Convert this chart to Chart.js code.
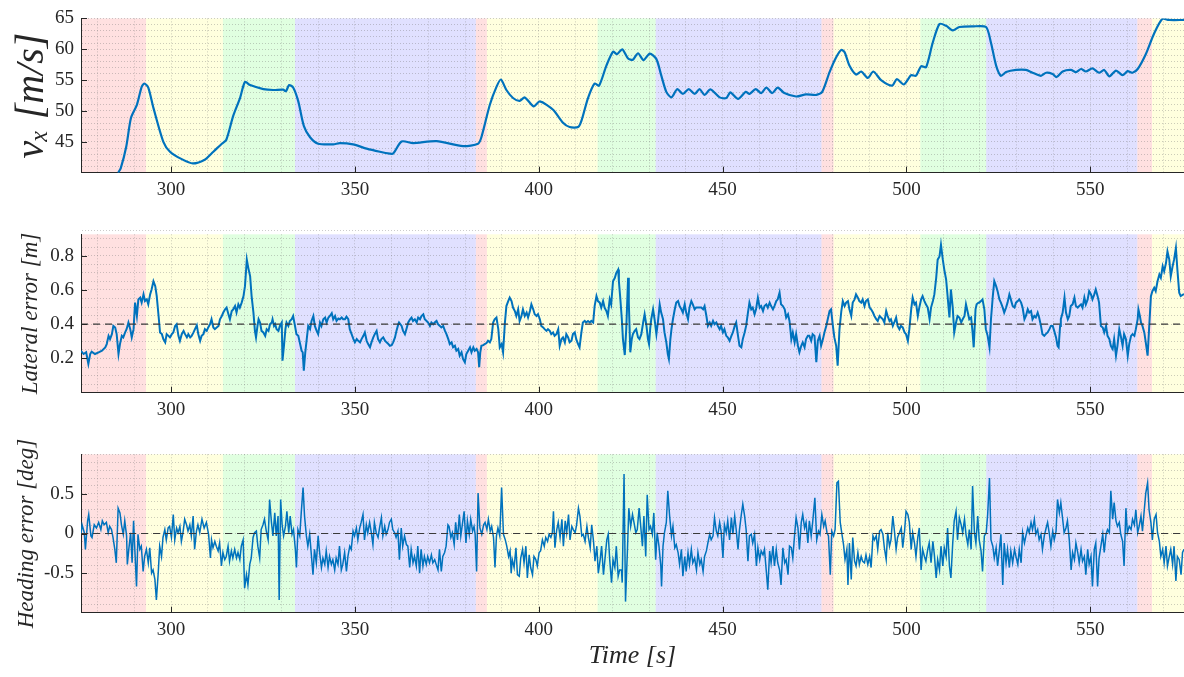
<!DOCTYPE html>
<html>
<head>
<meta charset="utf-8">
<script src="https://cdn.jsdelivr.net/npm/chart.js@4.4.1/dist/chart.umd.min.js"></script>
<style>
  html, body { margin: 0; padding: 0; background: #fff; }
  #wrap { position: relative; width: 1184px; height: 677px; }
  canvas { position: absolute; left: 0; }
</style>
</head>
<body>
<div id="wrap">
  <canvas id="vx-chart" width="1184" height="200" style="top:0;width:1184px;height:200px"></canvas>
  <canvas id="lat-chart" width="1184" height="225" style="top:200px;width:1184px;height:225px"></canvas>
  <canvas id="head-chart" width="1184" height="252" style="top:425px;width:1184px;height:252px"></canvas>
</div>
<script>
// phase bands (time edges) and their colour class
const bandEdges = [275.5, 293.2, 314.1, 333.7, 382.9, 385.9, 416.0, 431.8, 476.9, 480.2, 503.8, 521.7, 562.8, 566.8, 575.5];
const bandPhase = ["red", "yellow", "green", "blue", "red", "yellow", "green", "blue", "red", "yellow", "green", "blue", "red", "yellow"];

// tick labels
const xMajor = [300, 350, 400, 450, 500, 550];
const vxMajor = [45, 50, 55, 60, 65];
const latMajor = [0.2, 0.4, 0.6, 0.8];
const headMajor = [-0.5, 0, 0.5];

// reference lines
const latRef = 0.4;
const headRef = 0;

// longitudinal speed v_x [m/s]
const vxTime = [285.6, 286.3, 287.8, 289.1, 290.7, 292.0, 292.7, 293.8, 295.2, 297.9, 299.7, 302.9, 305.9, 309.0, 311.5, 313.8,
  315.0, 316.9, 318.75, 320.1, 321.5, 325.1, 327.8, 330.5, 331.25, 332.1, 333.2, 334.6, 336.1, 337.8, 340.0, 344.1, 345.9,
  349.5, 353.2, 356.8, 359.5, 360.4, 362.7, 365.8, 372.2, 379.4, 383.5, 384.4, 386.7, 388.5, 389.7, 391.2, 393.0, 394.8,
  396.2, 398.6, 400.3, 403.9, 406.6, 408.4, 410.7, 411.6, 413.4, 415.2, 416.4, 418.4, 420.2, 421.3, 422.7, 424.3, 425.6,
  427.0, 428.5, 430.2, 432.0, 433.3, 434.7, 436.1, 437.7, 439.2, 440.8, 442.4, 443.75, 445.1, 446.7, 449.2, 451.0, 452.1,
  454.2, 456.3, 457.3, 459.0, 460.5, 461.9, 463.5, 465.0, 466.8, 470.0, 472.7, 475.5, 477.1, 479.1, 480.9, 482.3, 483.2,
  484.5, 486.3, 487.7, 489.5, 491.0, 493.1, 496.1, 497.4, 499.3, 501.3, 502.6, 504.0, 505.35, 507.15, 509.0, 510.8, 512.6,
  514.4, 518.0, 521.65, 523.0, 524.4, 525.7, 527.1, 529.8, 532.5, 534.3, 536.6, 538.0, 539.75, 540.85, 542.5, 544.75,
  546.1, 547.5, 548.8, 550.6, 552.4, 553.8, 555.2, 557.0, 558.8, 560.15, 561.5, 562.9, 565.1, 567.4, 569.7, 571.5, 575.5];
const vx = [40.0, 40.7, 44.2, 48.9, 51.0, 53.9, 54.45, 53.8, 50.5, 45.0, 43.4, 42.2, 41.5, 42.05, 43.4, 44.7,
  45.3, 49.2, 52.1, 54.7, 54.2, 53.55, 53.4, 53.45, 53.2, 54.2, 53.8, 51.55, 47.6, 45.75, 44.7, 44.6, 44.8,
  44.6, 43.9, 43.4, 43.1, 43.1, 45.05, 44.8, 45.1, 44.3, 44.7, 45.75, 51.0, 53.9, 55.1, 53.4, 52.1, 51.65,
  52.2, 50.75, 51.55, 50.2, 48.1, 47.4, 47.4, 48.4, 52.1, 54.45, 54.1, 57.35, 59.6, 59.2, 60.0, 58.5, 58.3,
  59.35, 58.25, 59.3, 58.4, 55.8, 53.1, 52.2, 53.55, 52.75, 53.55, 52.75, 53.55, 52.6, 53.5, 52.2, 52.1, 53.0,
  51.95, 53.1, 52.75, 53.55, 52.9, 53.8, 52.9, 53.8, 52.9, 52.35, 52.7, 52.6, 53.1, 56.3, 58.7, 59.9, 59.5,
  57.35, 55.9, 56.4, 55.35, 56.4, 55.0, 54.1, 55.15, 54.3, 55.8, 55.7, 57.25, 57.1, 61.05, 64.1, 63.8, 63.05,
  63.6, 63.7, 63.6, 61.05, 57.35, 55.7, 56.3, 56.65, 56.65, 56.2, 55.7, 56.2, 56.0, 55.5, 56.4, 56.65,
  56.3, 56.8, 56.4, 56.9, 56.2, 56.65, 55.6, 56.55, 55.8, 56.45, 56.2, 56.8, 59.2, 62.6, 65.0, 64.75, 64.75];

// lateral error [m]
const latTime = [
  275.5, 276.2, 276.9, 277.5, 278.0, 278.4, 279.3, 280.3, 281.2, 282.1, 282.5, 283.0, 283.4, 283.9, 284.3, 284.8, 285.2, 285.7, 286.1, 286.6,
  287.0, 287.5, 287.9, 288.4, 288.9, 289.3, 289.8, 290.2, 290.7, 291.1, 291.6, 292.0, 292.5, 292.9, 293.4, 293.8, 294.3, 294.7, 295.2, 295.7,
  296.1, 296.6, 297.0, 297.5, 297.9, 298.4, 298.8, 299.3, 299.7, 300.2, 300.6, 301.1, 301.5, 302.0, 302.4, 302.9, 303.4, 303.8, 304.3, 304.7,
  305.2, 305.6, 306.1, 306.5, 307.0, 307.4, 307.9, 308.3, 308.8, 309.2, 309.7, 310.1, 310.6, 311.0, 311.5, 311.9, 312.4, 312.9, 313.3, 313.8,
  314.2, 314.7, 315.1, 315.6, 316.0, 316.5, 316.9, 317.4, 317.8, 318.3, 318.7, 319.2, 319.7, 320.1, 320.6, 321.0, 321.5, 321.9, 322.4, 322.8,
  323.1, 323.5, 323.8, 324.2, 324.6, 325.1, 325.6, 326.0, 326.5, 326.9, 327.4, 327.6, 328.0, 328.3, 328.7, 329.2, 329.6, 330.1, 330.3, 330.7,
  331.1, 331.4, 331.9, 332.3, 332.8, 333.2, 333.7, 334.1, 334.6, 335.1, 335.5, 335.8, 336.1, 336.5, 336.9, 337.3, 337.8, 338.2, 338.7, 339.1,
  339.6, 340.0, 340.5, 340.9, 341.4, 341.9, 342.3, 342.8, 343.2, 343.7, 344.1, 344.6, 345.0, 345.5, 345.9, 346.4, 346.8, 347.3, 347.7, 348.2,
  348.6, 349.1, 349.6, 350.0, 350.5, 350.9, 351.4, 351.8, 352.3, 352.7, 353.2, 353.6, 354.1, 354.5, 355.0, 355.4, 355.9, 356.3, 356.8, 357.2,
  357.7, 358.2, 358.6, 359.1, 359.5, 360.0, 360.4, 360.9, 361.3, 361.8, 362.0,
  362.7, 363.1, 363.6, 364.0, 364.5, 365.0, 365.4, 365.8, 366.3, 366.8, 367.2, 367.7, 368.1, 368.6, 369.0, 369.5, 369.9, 370.4, 370.8, 371.3,
  371.7, 372.2, 372.6, 373.1, 373.5, 374.0, 374.5, 374.9, 375.4, 375.8, 376.3, 376.7, 377.2, 377.6, 378.1, 378.5, 379.0, 379.4, 379.9, 380.3,
  380.8, 381.3, 381.7, 382.2, 382.6, 383.1, 383.5, 383.8, 384.1, 384.4, 384.9, 385.3, 385.8, 386.2, 386.7, 387.1, 387.6, 388.0, 388.5, 389.0,
  389.4, 389.9, 390.3, 390.8, 391.2, 391.7, 392.1, 392.6, 393.0, 393.5, 393.9, 394.4, 394.8, 395.3, 395.7, 396.2, 396.7, 397.1, 397.6, 398.0,
  398.5, 398.9, 399.4, 399.8, 400.3, 400.7, 401.2, 401.6, 402.1, 402.5, 403.0, 403.4, 403.9, 404.3, 404.8, 405.3, 405.7, 406.2, 406.6, 407.1,
  407.5, 408.0, 408.4, 408.9, 409.3, 409.8, 410.2, 410.7, 411.1, 411.6, 412.0, 412.5, 412.9, 413.4, 413.9, 414.3, 414.8, 415.2, 415.7, 416.1,
  416.6, 417.0, 417.5, 417.9, 418.4, 418.8, 419.3, 419.7, 420.2, 420.7, 421.1, 421.6, 421.8, 422.2, 422.6, 422.9, 423.4, 423.8, 424.3, 424.5,
  424.9, 425.3, 425.6, 426.1, 426.5, 427.0, 427.4, 427.9, 428.4, 428.8, 429.3, 429.7, 430.0, 430.3, 430.6, 431.1, 431.5, 432.0, 432.4, 432.9,
  433.3, 433.8, 434.2, 434.7, 435.1, 435.4, 435.8, 436.1, 436.5, 437.0, 437.4, 437.9, 438.3, 438.8, 439.2, 439.7, 440.1, 440.6, 441.0, 441.5,
  441.9, 442.4, 442.8, 443.3, 443.7, 444.2, 444.7, 445.1, 445.6, 446.0, 446.5, 446.9, 447.4, 447.8, 448.3, 448.7, 449.2, 449.6, 450.1, 450.5,
  451.0, 451.4, 451.9, 452.4, 452.8, 453.3, 453.7, 454.2, 454.6, 455.1, 455.5, 456.0, 456.4, 456.9, 457.3, 457.8, 458.2, 458.7, 459.1, 459.6,
  460.1, 460.5, 461.0, 461.4, 461.9, 462.3, 462.8, 463.2, 463.7, 464.1, 464.6, 465.0, 465.5,
  465.9, 466.4, 466.9, 467.3, 467.8, 468.2, 468.7, 469.1, 469.6, 470.0, 470.5, 470.9, 471.4, 471.8, 472.3, 472.7, 473.2, 473.6, 474.1, 474.5,
  475.0, 475.5, 475.9, 476.4, 476.8, 477.3, 477.7, 478.2, 478.6, 479.1, 479.5, 480.0, 480.4, 480.9, 481.3, 481.8, 482.3, 482.7, 483.2, 483.6,
  484.1, 484.5, 485.0, 485.4, 485.9, 486.3, 486.8, 487.2, 487.7, 488.1, 488.6, 489.0, 489.5, 490.0, 490.4, 490.9, 491.3, 491.8, 492.2, 492.7,
  493.1, 493.6, 494.0, 494.5, 494.9, 495.4, 495.8, 496.3, 496.7, 497.2, 497.6, 498.1, 498.5, 499.0, 499.5, 499.9, 500.4, 500.8, 501.3, 501.7,
  502.2, 502.6, 503.1, 503.5, 504.0, 504.4, 504.9, 505.3, 505.8, 506.3, 506.7, 507.2, 507.6, 508.1, 508.5, 509.0, 509.4, 509.9, 510.3, 510.8,
  511.2, 511.7, 512.1, 512.6, 513.0, 513.5, 513.9, 514.4, 514.9, 515.3, 515.8, 516.2, 516.7, 517.1, 517.6, 518.0, 518.3, 518.8, 519.1, 519.6,
  519.8, 520.3, 520.7, 521.2, 521.6, 522.1, 522.6, 523.0, 523.5, 523.9, 524.4, 524.8, 525.3, 525.7, 526.2, 526.6, 527.1, 527.5, 528.0, 528.4,
  528.9, 529.4, 529.8, 530.3, 530.7, 531.2, 531.6, 532.1, 532.5, 533.0, 533.4, 533.9, 534.3, 534.8, 535.2, 535.7, 536.1, 536.6, 537.0, 537.5,
  537.9, 538.4, 538.9, 539.3, 539.8, 540.2, 540.7, 541.1, 541.4, 541.8, 542.0, 542.5, 543.0, 543.4, 543.9, 544.3, 544.7, 545.2, 545.7, 546.1,
  546.6, 547.0, 547.5, 547.9, 548.4, 548.8, 549.3, 549.7, 550.2, 550.6, 551.1, 551.5, 552.0, 552.4, 552.9, 553.4, 553.8, 554.3, 554.7, 555.2,
  555.6, 556.1, 556.5, 557.0, 557.4, 557.9, 558.3, 558.8, 559.2, 559.7, 560.2, 560.6, 561.1, 561.5, 562.0, 562.4, 562.9, 563.1, 563.5, 563.8,
  564.2, 564.7, 565.1, 565.6, 566.0, 566.5, 566.9, 567.4, 567.8, 568.3, 568.8, 569.2, 569.7, 570.1, 570.6, 571.0, 571.5, 571.9, 572.4, 572.8,
  573.3, 573.7, 574.2, 574.6, 575.3, 575.5];
const lateral = [
  0.245, 0.226, 0.236, 0.168, 0.226, 0.240, 0.226, 0.236, 0.245, 0.265, 0.284, 0.332, 0.313, 0.342, 0.390, 0.381, 0.342, 0.226, 0.284, 0.332,
  0.323, 0.352, 0.371, 0.410, 0.371, 0.323, 0.371, 0.526, 0.448, 0.545, 0.555, 0.526, 0.574, 0.535, 0.545, 0.516, 0.574, 0.603, 0.651, 0.622,
  0.564, 0.448, 0.352, 0.342, 0.313, 0.294, 0.342, 0.332, 0.323, 0.342, 0.352, 0.390, 0.400, 0.332, 0.303, 0.342, 0.361, 0.342, 0.323, 0.342,
  0.323, 0.332, 0.352, 0.371, 0.394, 0.342, 0.303, 0.332, 0.342, 0.371, 0.361, 0.381, 0.400, 0.429, 0.381, 0.371, 0.381, 0.390, 0.429, 0.448,
  0.468, 0.487, 0.497, 0.458, 0.429, 0.477, 0.487, 0.506, 0.468, 0.516, 0.497, 0.526, 0.564, 0.622, 0.777, 0.729, 0.680, 0.564, 0.468, 0.361,
  0.323, 0.390, 0.429, 0.410, 0.361, 0.352, 0.332, 0.371, 0.361, 0.400, 0.410, 0.429, 0.390, 0.400, 0.371, 0.361, 0.390, 0.410, 0.187, 0.274,
  0.371, 0.410, 0.390, 0.419, 0.429, 0.448, 0.390, 0.342, 0.332, 0.284, 0.245, 0.236, 0.129, 0.236, 0.313, 0.390, 0.371, 0.419, 0.448, 0.390,
  0.361, 0.342, 0.410, 0.390, 0.429, 0.439, 0.410, 0.439, 0.448, 0.464, 0.429, 0.448, 0.419, 0.433, 0.429, 0.439, 0.429, 0.429, 0.444, 0.429,
  0.371, 0.342, 0.313, 0.294, 0.313, 0.303, 0.294, 0.313, 0.332, 0.352, 0.303, 0.284, 0.265, 0.294, 0.323, 0.342, 0.361, 0.313, 0.294, 0.313,
  0.323, 0.303, 0.294, 0.284, 0.274, 0.278, 0.294, 0.323, 0.361, 0.400, 0.410,
  0.390, 0.361, 0.342, 0.371, 0.410, 0.429, 0.439, 0.419, 0.429, 0.410, 0.439, 0.429, 0.448, 0.458, 0.429, 0.419, 0.410, 0.390, 0.410, 0.400,
  0.410, 0.419, 0.400, 0.390, 0.381, 0.390, 0.361, 0.342, 0.313, 0.284, 0.294, 0.265, 0.274, 0.245, 0.255, 0.216, 0.236, 0.197, 0.178, 0.226,
  0.245, 0.265, 0.236, 0.265, 0.245, 0.255, 0.236, 0.149, 0.236, 0.274, 0.278, 0.284, 0.290, 0.303, 0.294, 0.313, 0.410, 0.429, 0.439, 0.371,
  0.265, 0.284, 0.236, 0.410, 0.506, 0.535, 0.555, 0.535, 0.497, 0.477, 0.448, 0.487, 0.419, 0.448, 0.487, 0.448, 0.468, 0.439, 0.477, 0.516,
  0.487, 0.458, 0.448, 0.458, 0.429, 0.390, 0.381, 0.371, 0.361, 0.371, 0.361, 0.342, 0.352, 0.332, 0.342, 0.371, 0.274, 0.313, 0.323, 0.294,
  0.342, 0.323, 0.294, 0.303, 0.342, 0.352, 0.313, 0.284, 0.265, 0.352, 0.410, 0.419, 0.410, 0.419, 0.410, 0.419, 0.410, 0.506, 0.564, 0.535,
  0.526, 0.497, 0.535, 0.497, 0.477, 0.448, 0.545, 0.516, 0.651, 0.671, 0.700, 0.719, 0.651, 0.545, 0.429, 0.313, 0.220, 0.371, 0.671, 0.526,
  0.236, 0.313, 0.342, 0.361, 0.371, 0.323, 0.313, 0.342, 0.410, 0.458, 0.390, 0.313, 0.284, 0.371, 0.429, 0.487, 0.429, 0.342, 0.410, 0.516,
  0.468, 0.429, 0.352, 0.294, 0.226, 0.197, 0.313, 0.371, 0.429, 0.487, 0.526, 0.535, 0.506, 0.487, 0.468, 0.516, 0.468, 0.429, 0.497, 0.535,
  0.516, 0.487, 0.497, 0.497, 0.497, 0.497, 0.487, 0.506, 0.448, 0.390, 0.410, 0.390, 0.419, 0.400, 0.410, 0.390, 0.371, 0.390, 0.352, 0.371,
  0.332, 0.323, 0.303, 0.332, 0.352, 0.390, 0.410, 0.332, 0.274, 0.265, 0.313, 0.352, 0.390, 0.468, 0.526, 0.487, 0.497, 0.458, 0.487, 0.555,
  0.497, 0.506, 0.477, 0.506, 0.516, 0.497, 0.526, 0.506, 0.487, 0.506, 0.535, 0.545, 0.584,
  0.516, 0.506, 0.487, 0.439, 0.458, 0.419, 0.313, 0.352, 0.294, 0.342, 0.274, 0.236, 0.274, 0.294, 0.265, 0.313, 0.332, 0.332, 0.303, 0.342,
  0.332, 0.178, 0.303, 0.332, 0.274, 0.313, 0.352, 0.390, 0.429, 0.477, 0.487, 0.390, 0.323, 0.274, 0.158, 0.371, 0.477, 0.535, 0.506, 0.526,
  0.535, 0.487, 0.448, 0.526, 0.545, 0.574, 0.555, 0.535, 0.526, 0.545, 0.506, 0.535, 0.545, 0.497, 0.487, 0.468, 0.448, 0.429, 0.419, 0.448,
  0.439, 0.429, 0.410, 0.477, 0.448, 0.419, 0.429, 0.390, 0.410, 0.439, 0.390, 0.371, 0.390, 0.381, 0.352, 0.342, 0.303, 0.371, 0.487, 0.555,
  0.516, 0.526, 0.448, 0.497, 0.545, 0.564, 0.535, 0.516, 0.497, 0.429, 0.497, 0.535, 0.574, 0.671, 0.777, 0.796, 0.864, 0.777, 0.719, 0.661,
  0.564, 0.439, 0.603, 0.497, 0.352, 0.410, 0.448, 0.439, 0.410, 0.429, 0.448, 0.516, 0.468, 0.429, 0.439, 0.352, 0.265, 0.487, 0.516, 0.526,
  0.526, 0.535, 0.545, 0.487, 0.371, 0.332, 0.265, 0.429, 0.564, 0.651, 0.622, 0.593, 0.545, 0.526, 0.497, 0.468, 0.497, 0.526, 0.574, 0.545,
  0.506, 0.497, 0.526, 0.535, 0.545, 0.526, 0.497, 0.429, 0.448, 0.487, 0.468, 0.477, 0.429, 0.448, 0.439, 0.468, 0.439, 0.390, 0.342, 0.332,
  0.342, 0.352, 0.371, 0.390, 0.390, 0.361, 0.323, 0.274, 0.265, 0.390, 0.429, 0.468, 0.555, 0.468, 0.429, 0.448, 0.506, 0.516, 0.555, 0.506,
  0.497, 0.506, 0.516, 0.497, 0.555, 0.516, 0.545, 0.593, 0.574, 0.545, 0.574, 0.603, 0.564, 0.526, 0.390, 0.381, 0.352, 0.390, 0.332, 0.313,
  0.274, 0.255, 0.313, 0.216, 0.274, 0.371, 0.332, 0.274, 0.342, 0.313, 0.216, 0.284, 0.332, 0.342, 0.332, 0.371, 0.429, 0.487, 0.448, 0.410,
  0.390, 0.352, 0.294, 0.216, 0.371, 0.564, 0.593, 0.613, 0.593, 0.651, 0.690, 0.671, 0.738, 0.709, 0.757, 0.825, 0.777, 0.680, 0.738, 0.777,
  0.845, 0.719, 0.584, 0.564, 0.574, 0.570];

// heading error [deg]
const headTime = [
  275.5, 275.8, 276.4, 276.7, 277.3, 277.6, 278.2, 278.5, 279.1, 279.7, 280.3, 280.9, 281.3, 281.8, 282.4, 282.9, 283.3, 283.8, 284.2, 284.7,
  285.1, 285.6, 286.1, 286.5, 287.0, 287.4, 287.9, 288.1, 288.5, 289.0, 289.4, 289.8, 290.1, 290.6, 291.0, 291.5, 291.9, 292.4, 292.8, 293.3,
  293.8, 294.2, 294.7, 295.1, 295.6, 296.0, 296.5, 296.9, 297.4, 297.8, 298.3, 298.7, 299.2, 299.6, 300.1, 300.6, 301.0, 301.5, 301.9, 302.4,
  302.8, 303.3, 303.7, 304.2, 304.6, 305.1, 305.5, 306.0, 306.4, 306.9, 307.3, 307.8, 308.4, 309.0, 309.6, 310.2, 310.7, 311.0, 311.4, 311.9,
  312.3, 312.8, 313.2, 313.7, 314.1, 314.6, 315.0, 315.5, 315.9, 316.4, 316.8, 317.3, 317.8, 318.2, 318.7, 319.1, 319.6, 320.0, 320.5, 320.9,
  321.4, 321.8, 322.3, 322.7, 323.2, 323.6, 324.1, 324.5, 325.0, 325.4, 325.9, 326.4, 326.8, 327.3, 327.7, 328.2, 328.6, 329.1, 329.4, 329.8,
  330.2, 330.6, 331.1, 331.5, 332.0, 332.4, 332.9, 333.3, 333.8, 334.1, 334.5, 335.0, 335.4, 335.9, 336.3, 336.8, 337.2, 337.7, 338.1, 338.6,
  339.0, 339.5, 340.0, 340.4, 340.9, 341.3, 341.8, 342.2, 342.7, 343.1, 343.6, 344.0, 344.5, 344.9, 345.4, 345.8, 346.3, 346.7, 347.2, 347.7,
  348.1, 348.6, 349.0, 349.5, 349.9, 350.4, 350.8, 351.3, 351.7, 352.2, 352.6, 353.1, 353.5, 354.0, 354.4, 354.9, 355.3, 355.8, 356.3, 356.7,
  357.2, 357.6, 358.1, 358.5, 359.0, 359.4, 359.9, 360.3, 360.8, 361.2, 361.7, 362.1, 362.6, 363.0, 363.5, 364.0, 364.4, 364.9, 365.3, 365.8,
  366.2, 366.7, 367.1, 367.6, 368.0, 368.5, 368.9, 369.4, 369.8, 370.3, 370.8, 371.2, 371.7, 372.1, 372.6, 373.0, 373.5, 373.9, 374.4, 374.8,
  375.3,
  375.6, 376.1, 376.5, 377.0, 377.4, 377.9, 378.4, 378.8, 379.3, 379.7, 380.2, 380.6, 381.1, 381.5, 382.0, 382.4, 382.7, 383.1, 383.5, 384.0,
  384.5, 385.0, 385.4, 385.9, 386.3, 386.8, 387.2, 387.7, 388.1, 388.5, 388.9, 389.4, 389.9, 390.4, 390.9, 391.3, 391.8, 392.2, 392.5, 392.8,
  393.3, 393.8, 394.2, 394.7, 395.1, 395.6, 396.0, 396.5, 396.9, 397.4, 397.8, 398.3, 398.7, 399.2, 399.6, 400.1, 400.5, 401.0, 401.5, 401.9,
  402.4, 402.8, 403.3, 403.7, 404.0, 404.4, 404.9, 405.3, 405.8, 406.3, 406.7, 407.2, 407.6, 408.1, 408.5, 409.0, 409.4, 409.9, 410.3, 410.8,
  411.2, 411.7, 412.1, 412.6, 413.1, 413.5, 414.0, 414.4, 414.9, 415.3, 415.8, 416.2, 416.7, 417.1, 417.6, 418.0, 418.5, 418.9, 419.3, 419.8,
  420.2, 420.7, 421.1, 421.6, 422.0, 422.5, 422.7, 423.2, 423.6, 424.1, 424.5, 425.0, 425.5, 425.9, 426.4, 426.8, 427.3, 427.7, 428.2, 428.6,
  429.1, 429.5, 430.0, 430.4, 430.9, 431.3, 431.8, 432.2, 432.7, 433.2, 433.4, 433.8, 434.2, 434.7, 435.1, 435.6, 436.1, 436.5, 437.0, 437.4,
  437.9, 438.3, 438.8, 439.2, 439.7, 440.1, 440.6, 441.0, 441.5, 441.9, 442.4, 442.9, 443.3, 443.8, 444.2, 444.7, 445.1, 445.6, 446.0, 446.5,
  446.9, 447.4, 447.8, 448.3, 448.7, 449.2, 449.6, 450.1, 450.5, 451.0, 451.4, 451.9, 452.4, 452.8, 453.3, 453.7, 454.2, 454.6, 455.1, 455.5,
  456.0, 456.4, 456.9, 457.3, 457.8, 458.2, 458.7, 459.2, 459.6, 460.1, 460.5, 461.0, 461.4, 461.9, 462.3, 462.8, 463.2, 463.7, 464.1, 464.6,
  465.0, 465.5, 465.9, 466.4, 466.9, 467.3, 467.8, 468.2, 468.7, 469.1, 469.6, 470.0, 470.5, 470.9, 471.4, 471.8, 472.3, 472.7, 473.2, 473.6,
  474.1, 474.5, 475.1,
  475.6, 476.1, 476.5, 477.0, 477.5, 477.9, 478.4, 478.8, 479.3, 479.7, 480.2, 480.6, 481.1, 481.5, 482.0, 482.4, 482.9, 483.3, 483.8, 484.1,
  484.5, 485.0, 485.4, 485.9, 486.3, 486.8, 487.2, 487.7, 488.1, 488.6, 489.0, 489.5, 490.0, 490.4, 490.9, 491.3, 491.8, 492.2, 492.7, 493.1,
  493.6, 494.0, 494.5, 494.9, 495.4, 495.8, 496.3, 496.7, 497.2, 497.6, 498.1, 498.6, 499.0, 499.5, 499.9, 500.4, 500.8, 501.3, 501.7, 502.2,
  502.6, 503.1, 503.5, 504.0, 504.4, 504.9, 505.3, 505.8, 506.2, 506.7, 507.2, 507.6, 508.1, 508.5, 509.0, 509.4, 509.9, 510.3, 510.8, 511.2,
  511.7, 512.1, 512.6, 513.0, 513.5, 513.9, 514.4, 514.9, 515.3, 515.8, 516.2, 516.7, 517.1, 517.6, 518.0, 518.5, 518.9, 519.4, 519.8, 520.3,
  520.7, 521.2, 521.7, 522.1, 522.6, 523.0, 523.5, 523.9, 524.4, 524.8, 525.3, 525.7, 526.2, 526.6, 527.1, 527.5, 528.0, 528.4, 528.9, 529.4,
  529.8, 530.3, 530.7, 531.2, 531.6, 532.1, 532.5, 533.0, 533.4, 533.9, 534.3, 534.8, 535.2, 535.7, 536.1, 536.6, 537.0, 537.5, 538.0, 538.4,
  538.9, 539.3, 539.8, 540.2, 540.7, 541.1, 541.6, 542.0, 542.5, 542.9, 543.4, 543.8, 544.3, 544.8, 545.2, 545.7, 546.1, 546.6, 547.0, 547.5,
  547.9, 548.4, 548.8, 549.3, 549.7, 550.2, 550.6, 551.1, 551.5, 552.0, 552.4, 552.9, 553.4, 553.8, 554.3, 554.7, 555.2, 555.6, 556.1, 556.5,
  557.0, 557.4, 557.9, 558.3, 558.8, 559.2, 559.7, 560.1, 560.6, 561.1, 561.5, 562.0, 562.4, 562.9, 563.3, 563.8, 564.2, 564.7, 565.1, 565.6,
  566.0, 566.5, 566.9, 567.4, 567.9, 568.3, 568.8, 569.2, 569.7, 570.1, 570.6, 571.0, 571.5, 571.9, 572.4, 572.8, 573.3, 573.7, 574.2, 574.7,
  575.1, 575.5];
const heading = [
  -0.01, 0.11, 0.01, -0.20, 0.16, 0.24, -0.03, -0.05, 0.11, 0.07, 0.14, 0.05, 0.16, 0.11, 0.14, 0.01, 0.09, 0.05, -0.05, -0.20,
  -0.37, 0.32, 0.26, 0.11, -0.01, 0.16, -0.03, -0.39, -0.20, 0.01, -0.37, 0.16, -0.16, -0.67, -0.01, -0.20, -0.16, -0.48, -0.29, -0.20,
  -0.37, -0.18, -0.50, -0.46, -0.58, -0.84, -0.50, -0.16, -0.29, -0.05, 0.05, -0.08, 0.07, 0.09, -0.05, 0.24, -0.08, 0.07, 0.01, 0.09,
  -0.10, 0.03, 0.18, 0.11, 0.03, 0.11, -0.03, 0.22, -0.20, 0.03, 0.11, 0.01, 0.18, 0.07, 0.14, -0.01, -0.31, -0.08, -0.18, -0.10,
  -0.16, -0.22, -0.12, -0.41, -0.24, -0.33, -0.29, -0.16, -0.35, -0.22, -0.31, -0.20, -0.31, -0.24, -0.33, -0.16, -0.08, -0.69, -0.52, -0.65,
  -0.39, -0.31, -0.05, 0.01, 0.03, -0.16, -0.31, 0.05, 0.11, 0.18, 0.03, -0.08, 0.43, 0.14, -0.03, 0.26, -0.03, 0.22, -0.84, 0.43,
  0.11, -0.03, 0.09, 0.28, 0.01, 0.22, -0.01, 0.05, -0.20, -0.43, 0.05, -0.03, 0.26, 0.58, 0.22, -0.03, -0.16, -0.01, -0.24, -0.52,
  -0.20, -0.37, -0.03, -0.24, -0.43, -0.31, -0.39, -0.22, -0.43, -0.29, -0.39, -0.33, -0.46, -0.31, -0.39, -0.16, -0.46, -0.39, -0.24, -0.48,
  -0.29, -0.16, -0.20, 0.03, -0.03, 0.07, -0.08, 0.07, 0.14, 0.24, -0.08, 0.11, 0.01, 0.14, 0.03, -0.14, 0.14, 0.01, -0.05, 0.07,
  0.20, -0.03, 0.09, -0.01, 0.05, 0.14, 0.18, 0.05, 0.01, -0.05, 0.03, -0.33, 0.07, -0.16, -0.03, -0.14, -0.16, -0.43, -0.20, -0.37,
  -0.29, -0.41, -0.16, -0.50, -0.20, -0.41, -0.29, -0.39, -0.29, -0.37, -0.27, -0.37, -0.33, -0.39, -0.46, -0.20, -0.48, -0.29, -0.24, -0.16,
  0.11,
  0.09, -0.05, 0.01, -0.14, 0.14, -0.08, 0.24, -0.03, 0.14, 0.28, -0.12, 0.16, -0.01, 0.18, 0.03, 0.09, -0.01, -0.48, 0.51, 0.07,
  -0.01, 0.11, 0.14, 0.05, 0.18, 0.03, 0.09, -0.05, -0.43, -0.03, 0.07, -0.03, 0.58, -0.01, -0.08, -0.16, -0.29, -0.22, -0.50, -0.33,
  -0.43, -0.18, -0.52, -0.54, -0.31, -0.20, -0.37, -0.16, -0.56, -0.27, -0.43, -0.52, -0.29, -0.33, -0.41, -0.24, -0.22, -0.08, -0.16, -0.05,
  -0.10, -0.01, -0.05, 0.01, 0.28, -0.18, 0.05, 0.14, -0.05, 0.18, -0.16, 0.16, 0.01, 0.24, -0.08, 0.09, 0.05, 0.01, 0.11, 0.32,
  0.22, -0.03, -0.01, -0.10, 0.09, -0.05, -0.18, 0.11, -0.10, -0.35, -0.16, -0.50, -0.33, -0.16, -0.52, -0.33, -0.08, -0.01, -0.33, -0.62,
  -0.33, -0.43, -0.16, -0.54, -0.46, -0.46, -0.62, 0.75, -0.86, -0.24, 0.32, 0.09, 0.24, 0.14, 0.01, 0.05, 0.32, 0.11, -0.16, 0.22,
  -0.29, 0.49, 0.05, 0.09, -0.01, 0.26, -0.33, 0.01, -0.16, -0.41, -0.67, -0.16, 0.01, 0.14, 0.54, 0.22, -0.03, 0.09, -0.18, -0.14,
  -0.24, -0.39, -0.20, -0.54, -0.29, -0.48, -0.24, -0.39, -0.20, -0.37, -0.31, -0.46, -0.24, -0.39, -0.33, -0.48, -0.29, -0.22, -0.12, -0.01,
  -0.08, -0.03, 0.20, 0.03, -0.03, 0.14, 0.03, -0.31, 0.11, 0.01, 0.16, -0.08, 0.20, -0.01, 0.22, 0.05, -0.20, 0.05, 0.24, 0.37,
  0.22, 0.05, -0.35, -0.03, -0.01, -0.12, -0.01, -0.41, -0.18, -0.33, -0.22, -0.27, -0.20, -0.48, -0.71, -0.22, -0.37, -0.16, -0.41, -0.20,
  -0.37, -0.46, -0.65, -0.18, -0.37, -0.33, -0.52, -0.16, -0.18, -0.31, -0.01, 0.20, 0.07, -0.20, 0.14, 0.24, 0.07, 0.14, -0.12, 0.16,
  -0.03, 0.14, 0.45,
  -0.08, 0.03, -0.01, 0.24, 0.09, 0.16, 0.01, -0.03, -0.52, 0.03, -0.03, 0.05, 0.64, 0.66, 0.14, 0.01, -0.14, -0.33, -0.20, -0.65,
  -0.12, -0.58, -0.05, -0.35, -0.41, -0.24, -0.39, -0.29, -0.35, -0.37, -0.27, -0.39, -0.29, -0.43, -0.03, -0.08, -0.03, -0.20, 0.03, 0.05,
  -0.01, -0.18, -0.33, 0.01, -0.16, -0.08, 0.22, 0.05, -0.20, -0.05, 0.01, 0.07, -0.18, 0.03, 0.28, 0.24, 0.14, -0.20, 0.01, -0.12,
  -0.29, -0.05, 0.07, -0.46, -0.20, -0.29, -0.35, -0.20, -0.12, -0.37, -0.10, -0.27, -0.56, -0.33, -0.46, -0.16, -0.41, -0.18, -0.29, 0.07,
  -0.41, -0.56, -0.12, 0.16, 0.28, -0.08, 0.20, 0.11, 0.01, 0.18, -0.01, -0.14, 0.05, -0.20, 0.60, 0.01, -0.12, 0.22, -0.08, -0.22,
  -0.48, -0.03, 0.01, 0.24, 0.70, -0.08, -0.16, -0.31, -0.18, -0.41, -0.20, -0.01, -0.65, -0.12, -0.37, -0.20, -0.43, -0.22, -0.37, -0.20,
  -0.29, -0.39, -0.20, -0.37, 0.01, -0.12, -0.03, 0.07, 0.01, 0.14, 0.05, 0.18, -0.01, 0.05, -0.08, -0.01, -0.20, -0.03, 0.07, 0.14,
  -0.01, -0.16, 0.03, -0.08, 0.03, 0.43, 0.26, 0.39, 0.18, 0.01, 0.07, 0.16, -0.08, -0.46, -0.24, -0.33, -0.12, -0.24, -0.37, -0.20,
  -0.35, -0.29, -0.52, -0.20, -0.39, -0.29, -0.67, -0.20, -0.12, -0.67, -0.31, -0.16, -0.01, -0.24, -0.01, 0.05, 0.01, 0.54, 0.18, 0.39,
  0.16, 0.09, 0.14, -0.01, -0.10, -0.41, 0.32, 0.01, 0.09, 0.05, 0.18, 0.11, 0.30, 0.01, 0.09, 0.22, 0.03, 0.30, 0.51, 0.64,
  0.30, 0.14, -0.08, 0.18, 0.24, 0.01, -0.10, -0.29, -0.20, -0.37, -0.16, -0.41, -0.29, -0.20, -0.39, -0.16, -0.60, -0.29, -0.33, -0.52,
  -0.24, -0.20];

const X_MIN = 275.5, X_MAX = 575.5;
const LINE = "#0072BD";
const INK = "#262626";
const SERIF = "'Liberation Serif', 'DejaVu Serif', serif";
const phaseColors = {
  red: "rgba(255, 0, 0, 0.12)",
  yellow: "rgba(255, 255, 0, 0.13)",
  green: "rgba(0, 255, 0, 0.12)",
  blue: "rgba(0, 0, 255, 0.12)",
};

function steps(a, b, d) {
  const out = [];
  const n = Math.round((b - a) / d);
  for (let i = 0; i <= n; i++) out.push(Math.round((a + i * d) * 1000) / 1000);
  return out;
}
const hasVal = (arr, v) => arr.some((m) => Math.abs(m - v) < 1e-6);
const pts = (ts, vs) => ts.map((t, i) => ({ x: t, y: vs[i] }));

const phasePlugin = {
  id: "phases",
  beforeDraw(chart) {
    const { ctx, chartArea: a, scales: { x } } = chart;
    ctx.save();
    for (let i = 0; i < bandPhase.length; i++) {
      const x0 = x.getPixelForValue(bandEdges[i]);
      const x1 = x.getPixelForValue(bandEdges[i + 1]);
      ctx.fillStyle = phaseColors[bandPhase[i]];
      ctx.fillRect(x0, a.top, x1 - x0, a.bottom - a.top);
    }
    ctx.restore();
  },
};

// MATLAB-style ticks pointing into the axes
const innerTicks = {
  id: "innerTicks",
  afterDraw(chart, args, opts) {
    const { ctx, chartArea: a, scales: { x, y } } = chart;
    ctx.save();
    ctx.strokeStyle = INK;
    ctx.lineWidth = 1;
    ctx.beginPath();
    xMajor.forEach((v) => {
      const px = Math.round(x.getPixelForValue(v)) + 0.5;
      ctx.moveTo(px, a.bottom);
      ctx.lineTo(px, a.bottom - 6);
    });
    opts.yMajor.forEach((v) => {
      const py = Math.round(y.getPixelForValue(v)) + 0.5;
      ctx.moveTo(a.left, py);
      ctx.lineTo(a.left + 6, py);
    });
    ctx.stroke();
    ctx.restore();
  },
};

function makeConfig(o) {
  const datasets = [];
  if (o.ref !== undefined) {
    datasets.push({
      data: [{ x: X_MIN, y: o.ref }, { x: X_MAX, y: o.ref }],
      borderColor: "#3a3a3a",
      borderWidth: 1.2,
      borderDash: [7, 5],
      pointRadius: 0,
    });
  }
  datasets.push({
    data: o.data,
    borderColor: LINE,
    borderWidth: o.lineWidth,
    pointRadius: 0,
    tension: o.tension || 0,
  });
  const grid = { color: "rgba(110, 110, 110, 0.35)", drawTicks: false, lineWidth: 1 };
  const border = { display: true, color: INK, width: 1, dash: [1, 2] };
  return {
    type: "line",
    data: { datasets: datasets },
    plugins: [phasePlugin, innerTicks],
    options: {
      responsive: false,
      animation: false,
      devicePixelRatio: 1,
      events: [],
      layout: { padding: { top: o.padTop, right: 0, bottom: 0, left: 0 } },
      plugins: {
        legend: { display: false },
        tooltip: { enabled: false },
        innerTicks: { yMajor: o.yMajor },
      },
      scales: {
        x: {
          type: "linear",
          min: X_MIN,
          max: X_MAX,
          afterBuildTicks: (s) => { s.ticks = steps(280, 570, 10).map((v) => ({ value: v })); },
          afterFit: (s) => { s.height = o.xHeight; },
          grid: grid,
          border: border,
          ticks: {
            autoSkip: false,
            maxRotation: 0,
            padding: 6,
            color: INK,
            font: { family: SERIF, size: 19 },
            callback: (v) => (hasVal(xMajor, v) ? String(v) : ""),
          },
          title: o.xTitle
            ? { display: true, text: o.xTitle, color: INK, font: { family: SERIF, size: 26, style: "italic" }, padding: { top: 0, bottom: 5 } }
            : { display: false },
        },
        y: {
          type: "linear",
          min: o.yMin,
          max: o.yMax,
          afterBuildTicks: (s) => { s.ticks = steps(o.yMin, o.yMax, o.yStep).map((v) => ({ value: v })); },
          afterFit: (s) => { s.width = 81; },
          grid: grid,
          border: border,
          ticks: {
            autoSkip: false,
            padding: 7,
            color: INK,
            font: { family: SERIF, size: 19 },
            callback: (v) => (hasVal(o.yMajor, v) ? String(v) : ""),
          },
          title: {
            display: true,
            text: o.yTitle,
            color: INK,
            font: { family: SERIF, size: o.yTitleSize, style: "italic" },
            padding: { top: o.yTitlePad, bottom: 0 },
          },
        },
      },
    },
  };
}

new Chart(document.getElementById("vx-chart"), makeConfig({
  data: pts(vxTime, vx), yMin: 40, yMax: 65, yStep: 1, yMajor: vxMajor,
  yTitle: "v\u2093 [m/s]", yTitleSize: 40, yTitlePad: 8,
  padTop: 15.7, xHeight: 27.3, lineWidth: 2.2, tension: 0.25,
}));

new Chart(document.getElementById("lat-chart"), makeConfig({
  data: pts(latTime, lateral), yMin: 0, yMax: 0.925, yStep: 0.05, yMajor: latMajor, ref: latRef,
  yTitle: "Lateral error [m]", yTitleSize: 23, yTitlePad: 17,
  padTop: 34.3, xHeight: 32.3, lineWidth: 2,
}));

new Chart(document.getElementById("head-chart"), makeConfig({
  data: pts(headTime, heading), yMin: -1, yMax: 1, yStep: 0.1, yMajor: headMajor, ref: headRef,
  yTitle: "Heading error [deg]", yTitleSize: 23, yTitlePad: 13,
  padTop: 29.3, xHeight: 64.3, lineWidth: 1.5, xTitle: "Time [s]",
}));
</script>
</body>
</html>
